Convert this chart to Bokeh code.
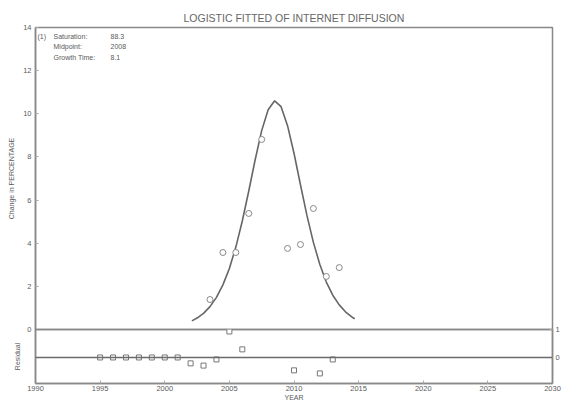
from bokeh.plotting import figure
from bokeh.layouts import column
from bokeh.models import Range1d, LinearAxis, FixedTicker, Span, Label
from bokeh.embed import file_html
from bokeh.resources import INLINE

# observed annual change in percentage (main panel)
obs_year = [2003.5, 2004.5, 2005.5, 2006.5, 2007.5, 2009.5, 2010.5, 2011.5, 2012.5, 2013.5]
obs_change = [1.39, 3.57, 3.57, 5.38, 8.81, 3.76, 3.94, 5.61, 2.46, 2.87]

# fitted logistic curve
fit_year = [2002.1, 2002.5, 2003.0, 2003.5, 2004.0, 2004.5, 2005.0, 2005.5, 2006.0,
            2006.5, 2007.0, 2007.5, 2008.0, 2008.5, 2009.0, 2009.5, 2010.0, 2010.5,
            2011.0, 2011.5, 2012.0, 2012.5, 2013.0, 2013.5, 2014.0, 2014.5, 2014.7]
fit_change = [0.40, 0.53, 0.75, 1.06, 1.49, 2.07, 2.83, 3.82, 5.03,
              6.42, 7.88, 9.22, 10.19, 10.60, 10.33, 9.45, 8.17, 6.71,
              5.29, 4.04, 3.01, 2.20, 1.59, 1.14, 0.81, 0.57, 0.50]

# residuals (lower panel)
res_year = [1995, 1996, 1997, 1998, 1999, 2000, 2001, 2002, 2003, 2004, 2005, 2006, 2010, 2012, 2013]
res_value = [0, 0, 0, 0, 0, 0, 0, -0.21, -0.29, -0.07, 0.93, 0.29, -0.46, -0.57, -0.07]

x_ticks = [1990, 1995, 2000, 2005, 2010, 2015, 2020, 2025, 2030]
y_ticks = [0, 2, 4, 6, 8, 10, 12, 14]
res_ticks = [0, 1]

legend_lines = ["(1)", "Saturation:", "Midpoint:", "Growth Time:"]
legend_values = ["88.3", "2008", "8.1"]

FONT = "Liberation Sans"
GREY = "#6a6a6a"
TXT = "#5a5a5a"
AXC = "#888888"
OVER = 6  # pixels each panel reaches into the other one


def style_axis(ax, label_size="7.5px"):
    ax.axis_line_color = AXC
    ax.axis_line_width = 1.5
    ax.major_tick_in = 3
    ax.major_tick_out = 0
    ax.major_tick_line_color = "#aaaaaa"
    ax.minor_tick_line_color = None
    ax.major_label_text_font = FONT
    ax.major_label_text_font_size = label_size
    ax.major_label_text_color = TXT
    ax.axis_label_text_font = FONT
    ax.axis_label_text_font_size = "7px"
    ax.axis_label_text_font_style = "normal"
    ax.axis_label_text_color = TXT
    ax.major_label_standoff = 4
    ax.axis_label_standoff = 5


# ---------- main panel ----------
p = figure(width=562, height=329 + OVER, output_backend="svg", toolbar_location=None,
           x_range=Range1d(1990, 2030), y_range=Range1d(0, 14),
           min_border_left=35, min_border_right=10, min_border_top=27,
           min_border_bottom=OVER,
           title="LOGISTIC FITTED OF INTERNET DIFFUSION")
p.title.align = "center"
p.title.text_font = FONT
p.title.text_font_size = "10.5px"
p.title.text_font_style = "normal"
p.title.text_color = "#666666"
p.title.standoff = 8
p.grid.visible = False
p.outline_line_color = AXC
p.outline_line_width = 1.5
p.xaxis.visible = False
p.yaxis.ticker = FixedTicker(ticks=y_ticks)
p.yaxis.axis_label = "Change in PERCENTAGE"
style_axis(p.yaxis[0])

p.line(fit_year, fit_change, line_color="#666666", line_width=1.6)
p.scatter(obs_year, obs_change, marker="circle", size=6, fill_color="white",
          line_color="#888888", line_width=1)

ys = [13.58, 13.1, 12.6]
p.add_layout(Label(x=1990, y=ys[0], text=legend_lines[0], text_font=FONT,
                   text_font_size="7px", text_color=TXT, text_baseline="middle",
                   x_offset=2))
for i, (t, v) in enumerate(zip(legend_lines[1:], legend_values)):
    p.add_layout(Label(x=1990, y=ys[i], text=t, text_font=FONT, text_font_size="7px",
                       text_color=TXT, text_baseline="middle", x_offset=18))
    p.add_layout(Label(x=1990, y=ys[i], text=v, text_font=FONT, text_font_size="7px",
                       text_color=TXT, text_baseline="middle", x_offset=75))

# ---------- residual panel ----------
r = figure(width=562, height=74 + OVER, output_backend="svg", toolbar_location=None,
           x_range=p.x_range, y_range=Range1d(-0.93, 1.0),
           min_border_left=35, min_border_right=10, min_border_top=OVER,
           min_border_bottom=20)
r.margin = (-2 * OVER, 0, 0, 0)
r.border_fill_color = None
r.background_fill_color = None
r.grid.visible = False
r.outline_line_color = AXC
r.outline_line_width = 1.5
r.xaxis.ticker = FixedTicker(ticks=x_ticks)
r.xaxis.axis_label = "YEAR"
style_axis(r.xaxis[0])
r.xaxis.major_label_standoff = 2
r.xaxis.axis_label_standoff = 0
r.yaxis.ticker = FixedTicker(ticks=[])
r.yaxis.axis_label = "Residual"
style_axis(r.yaxis[0])
r.yaxis.major_label_standoff = 0
r.yaxis.axis_label_standoff = 15

rax = LinearAxis(ticker=FixedTicker(ticks=res_ticks))
style_axis(rax)
rax.major_label_standoff = 3
r.add_layout(rax, "right")

r.add_layout(Span(location=0, dimension="width", line_color=GREY, line_width=1.5))
r.scatter(res_year, res_value, marker="square", size=5, fill_color="white",
          line_color="#777777", line_width=1)

layout = column(p, r, spacing=0)
open("out.html", "w").write(file_html(layout, INLINE))
